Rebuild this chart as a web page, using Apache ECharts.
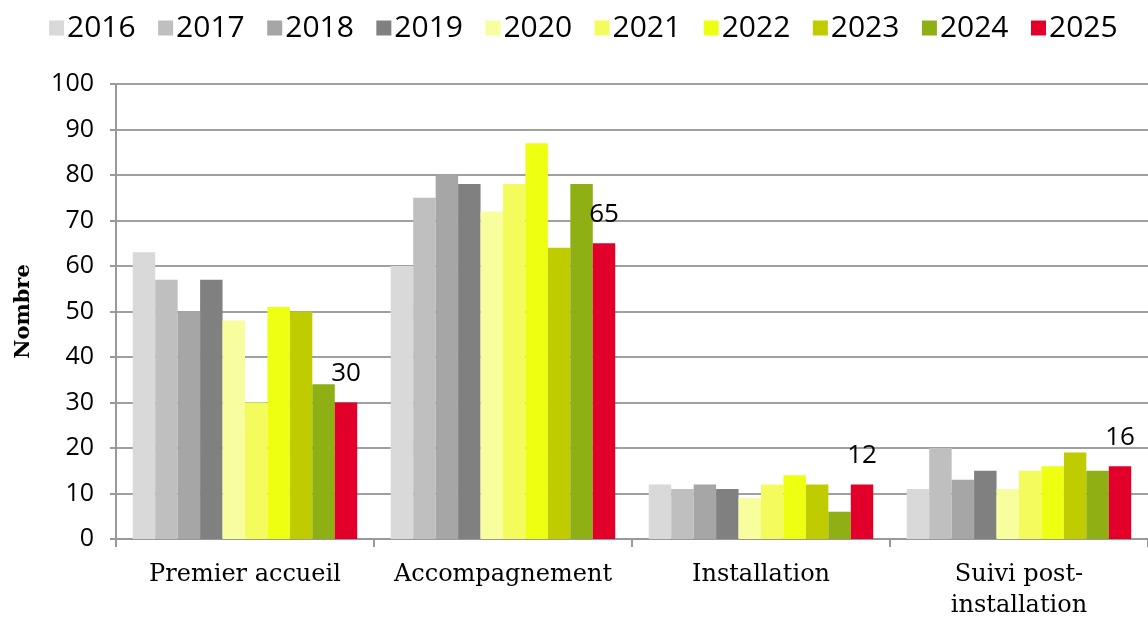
<!DOCTYPE html>
<html>
<head>
<meta charset="utf-8">
<script src="https://cdn.jsdelivr.net/npm/echarts@6/dist/echarts.min.js"></script>
<style>
  html, body { margin: 0; padding: 0; background: #fff; }
  #chart { width: 1148px; height: 618px; }
</style>
</head>
<body>
<div id="chart"></div>
<script>
var categories = ["Premier accueil", "Accompagnement", "Installation", "Suivi post-\ninstallation"];
var years = ["2016", "2017", "2018", "2019", "2020", "2021", "2022", "2023", "2024", "2025"];
var colors = ["#d9d9d9", "#bfbfbf", "#a6a6a6", "#808080", "#f8fd9e", "#f3fc5c", "#eeff12", "#becc00", "#8eb014", "#e2002a"];
var values2016 = [63, 60, 12, 11];
var values2017 = [57, 75, 11, 20];
var values2018 = [50, 80, 12, 13];
var values2019 = [57, 78, 11, 15];
var values2020 = [48, 72, 9, 11];
var values2021 = [30, 78, 12, 15];
var values2022 = [51, 87, 14, 16];
var values2023 = [50, 64, 12, 19];
var values2024 = [34, 78, 6, 15];
var values2025 = [30, 65, 12, 16];
var allValues = [values2016, values2017, values2018, values2019, values2020,
                 values2021, values2022, values2023, values2024, values2025];

var myChart = echarts.init(document.getElementById("chart"));

var series = years.map(function (y, i) {
  var s = {
    name: y,
    type: "bar",
    data: allValues[i],
    barGap: "0%",
    barCategoryGap: "13%",
    itemStyle: { color: colors[i] }
  };
  if (i === years.length - 1) {
    s.label = {
      show: true,
      position: "top",
      distance: 16,
      color: "#000",
      fontSize: 26,
      fontFamily: "Open Sans"
    };
  }
  return s;
});

var option = {
  animation: false,
  legend: {
    top: 8,
    left: 44,
    itemWidth: 15,
    itemHeight: 15,
    itemGap: 22.5,
    icon: "rect",
    textStyle: { fontSize: 30, color: "#000", fontFamily: "Open Sans", padding: [0, 0, 0, -2] },
    data: years
  },
  grid: { left: 116, right: 0, top: 84, bottom: 79, outerBoundsMode: "none" },
  xAxis: {
    type: "category",
    data: categories,
    axisLine: { lineStyle: { color: "#999", width: 2 } },
    axisTick: { show: true, interval: 0, length: 8, alignWithLabel: false, lineStyle: { color: "#999", width: 2 } },
    axisLabel: { interval: 0, color: "#000", fontSize: 24, fontFamily: "DejaVu Serif", margin: 20, lineHeight: 31 }
  },
  yAxis: {
    type: "value",
    min: 0,
    max: 100,
    interval: 10,
    name: "Nombre",
    nameLocation: "middle",
    nameGap: 82,
    nameTextStyle: { fontSize: 21, fontWeight: "bold", fontFamily: "DejaVu Serif", color: "#000" },
    axisLine: { show: true, lineStyle: { color: "#999", width: 2 } },
    axisTick: { show: true, length: 6, lineStyle: { color: "#999", width: 2 } },
    axisLabel: { color: "#000", fontSize: 25, fontFamily: "Open Sans", margin: 22 },
    splitLine: { lineStyle: { color: "#a0a0a0", width: 2 } }
  },
  series: series
};

option && myChart.setOption(option);
</script>
</body>
</html>
